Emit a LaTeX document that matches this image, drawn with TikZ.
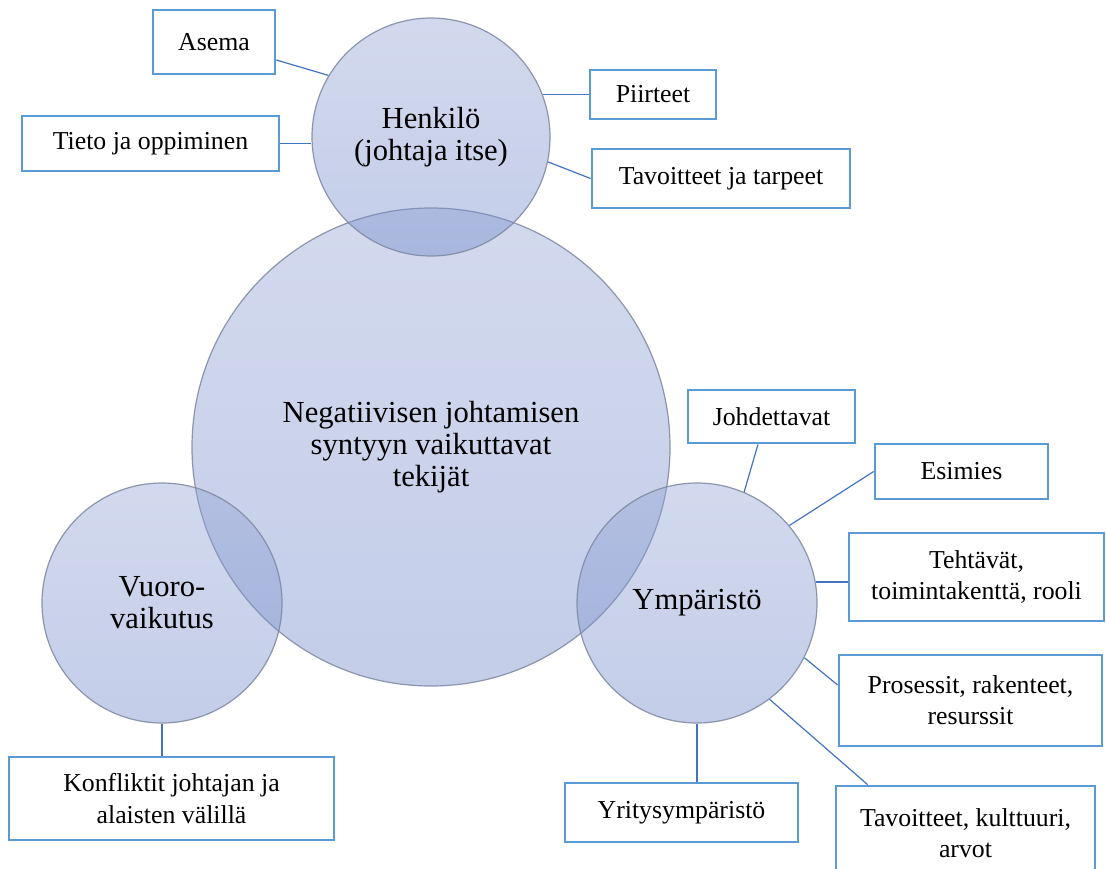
\documentclass[tikz,border=0pt]{standalone}
\usepackage{fontspec}
\setmainfont{Liberation Serif}
\usetikzlibrary{calc}
\definecolor{circtop}{RGB}{148,165,214}
\definecolor{circbot}{RGB}{111,135,201}
\definecolor{circline}{RGB}{125,135,160}
\definecolor{boxline}{RGB}{91,155,213}
\definecolor{conline}{RGB}{68,114,196}
\tikzset{
  bubble/.style={circle, inner sep=0pt, top color=circtop, bottom color=circbot,
    fill opacity=0.41, text opacity=1, draw=circline, draw opacity=0.85,
    line width=0.6pt, align=center, font=\fontsize{15.3}{16}\selectfont},
  infobox/.style={rectangle, draw=boxline, line width=1.4pt, fill=white,
    align=center, inner sep=2pt, font=\fontsize{12.9}{15.6}\selectfont},
  link/.style={draw=conline, line width=0.6pt},
}
\begin{document}
\begin{tikzpicture}[x=0.5pt,y=-0.5pt]
\fill[white] (0,0) rectangle (1106,868);
\useasboundingbox (0,0) rectangle (1106,868);

% circles
\node[bubble, minimum size=239pt] (main) at (431,447) {Negatiivisen johtamisen\\syntyyn vaikuttavat\\tekijät};
\node[bubble, minimum size=119pt] (henk) at (431,137) {Henkilö\\(johtaja itse)};
\node[bubble, minimum size=120pt] (vuoro) at (162,603) {Vuoro-\\vaikutus};
\node[bubble, minimum size=120pt] (ymp) at (697,603) {Ympäristö};

% boxes
\node[infobox, minimum width=61pt, minimum height=32pt] (asema) at (214,42) {Asema};
\node[infobox, minimum width=128.5pt, minimum height=27.5pt] (tieto) at (150.5,143.5) {Tieto ja oppiminen};
\node[infobox, minimum width=63pt, minimum height=24.5pt] (piir) at (653,94.5) {Piirteet};
\node[infobox, minimum width=129pt, minimum height=29.5pt] (tavt) at (721,178.5) {Tavoitteet ja tarpeet};
\node[infobox, minimum width=83.5pt, minimum height=26.5pt] (johd) at (771.5,416.5) {Johdettavat};
\node[infobox, minimum width=86.5pt, minimum height=27.5pt] (esim) at (961.5,471.5) {Esimies};
\node[infobox, minimum width=127.5pt, minimum height=44pt] (teht) at (976.5,577) {Tehtävät,\\toimintakenttä, rooli};
\node[infobox, minimum width=131.5pt, minimum height=45.5pt] (pros) at (970.5,700.5) {Prosessit, rakenteet,\\resurssit};
\node[infobox, minimum width=116.5pt, minimum height=29.5pt] (yrit) at (681.5,812.5) {Yritysympäristö};
\node[infobox, minimum width=129.5pt, minimum height=47pt] (tavk) at (965.5,833) {Tavoitteet, kulttuuri,\\arvot};
\node[infobox, minimum width=162.5pt, minimum height=41.5pt] (konf) at (171.5,798.5) {Konfliktit johtajan ja\\alaisten välillä};

% connectors
\draw[link] ($(asema.south east)!0.23!(asema.north east)$) -- (henk.149);
\draw[link] (tieto.east) -- (henk.west |- tieto.east);
\draw[link] (henk.21) -- (henk.21 -| piir.west);
\draw[link] (henk.-12) -- (tavt.west);
\draw[link] ([xshift=-6.75pt]johd.south) -- (ymp.67);
\draw[link] (esim.west) -- (ymp.40);
\draw[link] (ymp.10) -- (ymp.10 -| teht.west);
\draw[link] (ymp.-27) -- ([yshift=7.75pt]pros.west);
\draw[link] (ymp.-53) -- ([xshift=16.5pt]tavk.north west);
\draw[link] (ymp.south) -- (ymp.south |- yrit.north);
\draw[link] (vuoro.south) -- (vuoro.south |- konf.north);
\end{tikzpicture}
\end{document}
